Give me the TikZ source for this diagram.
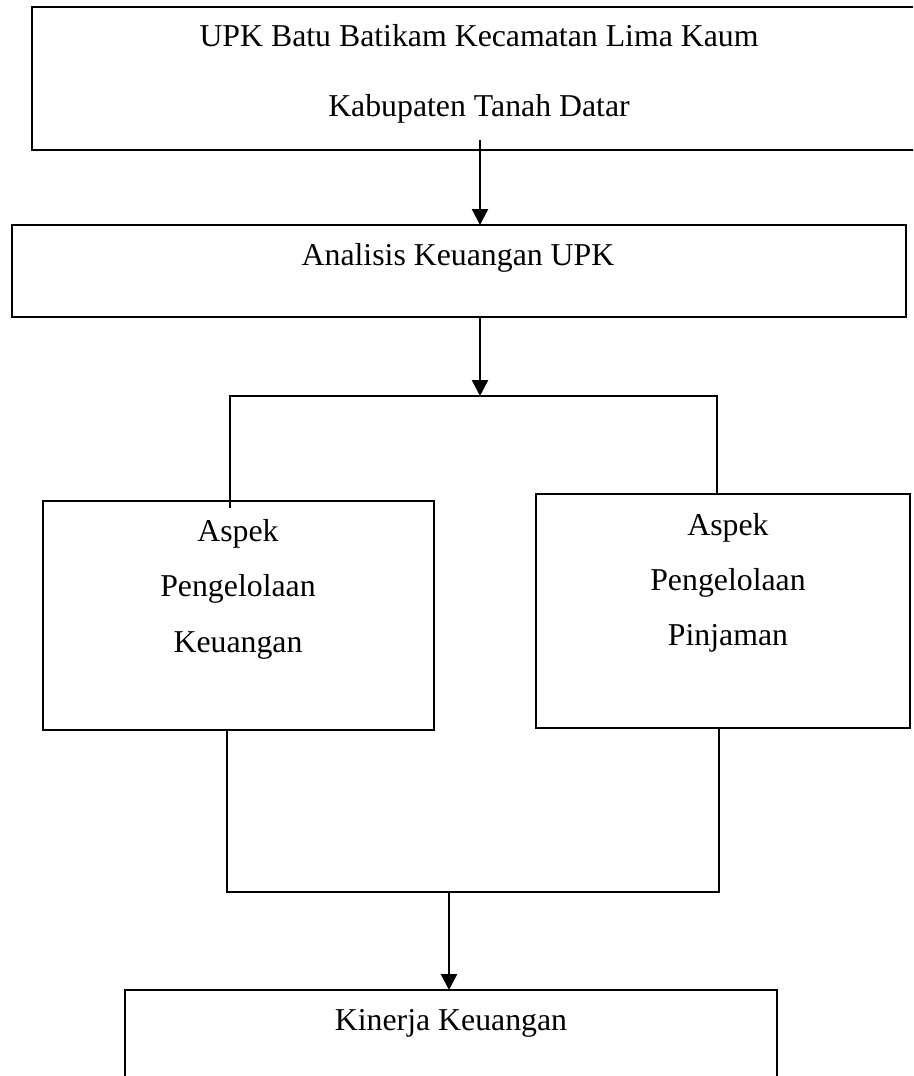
\documentclass[tikz,border=0pt]{standalone}
\usepackage{fontspec}
\setmainfont{Liberation Serif}
\usetikzlibrary{arrows.meta}
\begin{document}
\begin{tikzpicture}[x=1pt,y=-1pt,
  box/.style={draw=black, line width=2.4pt, rectangle, inner sep=0pt, outer sep=0pt},
  lbl/.style={anchor=base, inner sep=0pt, font=\fontsize{31.8}{38}\selectfont},
  conn/.style={line width=2.4pt, draw=black},
  arr/.style={conn, -{Triangle[width=16pt,length=16pt]}}]
\useasboundingbox (0,0) rectangle (913,1076);
\clip (0,0) rectangle (913,1076);
\fill[white] (0,0) rectangle (913,1076);

% boxes
\node[box, minimum width=898pt, minimum height=143pt] (b1) at (481,78.5) {};
\node[box, minimum width=894pt, minimum height=92pt] (b2) at (459,271) {};
\node[box, minimum width=391pt, minimum height=229pt] (b3) at (238.5,615.5) {};
\node[box, minimum width=374pt, minimum height=234pt] (b4) at (723,611) {};
\node[box, minimum width=652pt, minimum height=120pt] (b5) at (451,1050) {};

% texts
\node[lbl] (t1a) at (479,46.7) {UPK Batu Batikam Kecamatan Lima Kaum};
\node[lbl] (t1b) at (479,116.7) {Kabupaten Tanah Datar};
\node[lbl] (t2) at (458,265.7) {Analisis Keuangan UPK};
\node[lbl] (t3a) at (238,541) {Aspek};
\node[lbl] (t3b) at (238,596.7) {Pengelolaan};
\node[lbl] (t3c) at (238,652.3) {Keuangan};
\node[lbl] (t4a) at (728,535) {Aspek};
\node[lbl] (t4b) at (728,590) {Pengelolaan};
\node[lbl] (t4c) at (728,645) {Pinjaman};
\node[lbl] (t5) at (451,1030.7) {Kinerja Keuangan};

% connectors
\coordinate (a1s) at (480,140);
\draw[arr] (a1s) -- (a1s |- b2.north);
\coordinate (bar1) at (480,396);
\draw[arr] (b2.south -| bar1) -- (bar1);
\coordinate (jl) at (230,396);
\coordinate (jr) at (717,396);
\coordinate (b3in) at (230,508);
\draw[conn] (b3in) -- (jl) -- (jr) -- (jr |- b4.north);
\coordinate (ll) at (227,892);
\coordinate (lr) at (719,892);
\draw[conn] (ll |- b3.south) -- (ll) -- (lr) -- (lr |- b4.south);
\coordinate (m) at (449,892);
\draw[arr] (m) -- (m |- b5.north);
\end{tikzpicture}
\end{document}
